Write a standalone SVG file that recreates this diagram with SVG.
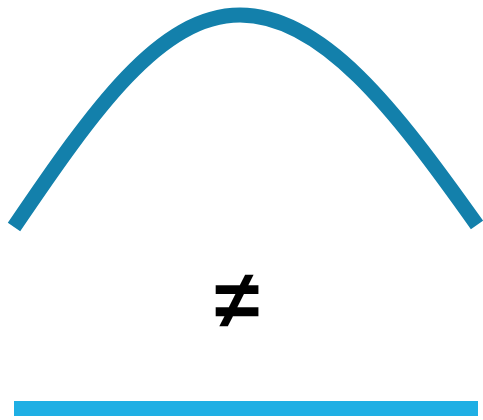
<svg xmlns="http://www.w3.org/2000/svg" width="483" height="420" viewBox="0 0 483 420">
<style>
.curve{fill:none;stroke:#1380ab;stroke-width:15;stroke-linecap:butt}
.sym{font-family:"Liberation Sans",Arial,sans-serif;font-weight:bold;font-size:82px;fill:#000}
</style>
<rect width="483" height="420" fill="#fff"/>
<g id="curve">
<path class="curve" d="M14,227 C93.5,109.9 160,15 240,15 C322.3,15 394.7,109 477,225"/>
</g>
<g id="symbol">
<text class="sym" x="237" y="328" text-anchor="middle">≠</text>
</g>
<g id="bar">
<rect x="14" y="401" width="464" height="15" fill="#1fafe4"/>
</g>
</svg>
